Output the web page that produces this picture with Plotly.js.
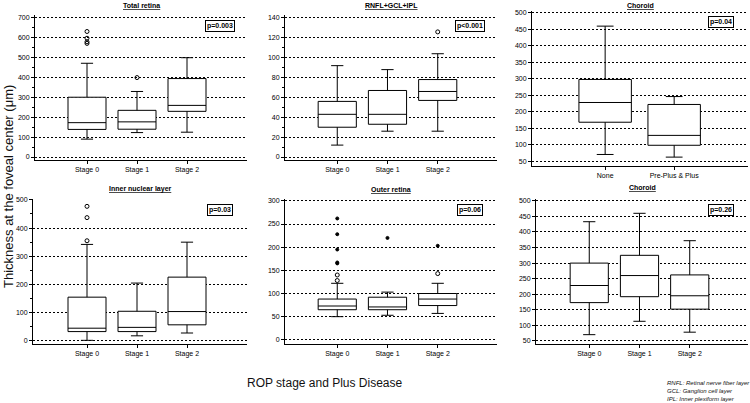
<!DOCTYPE html>
<html>
<head>
<meta charset="utf-8">
<script src="https://cdn.plot.ly/plotly-3.0.1.min.js"></script>
<style>
  html, body { margin: 0; padding: 0; background: #fff; }
  #chart { width: 750px; height: 403px; }
</style>
</head>
<body>
<div id="chart"></div>
<script>
// categories
const STAGES = ["Stage 0", "Stage 1", "Stage 2"];
const PLUS = ["None", "Pre-Plus & Plus"];

// Total retina
const TR_LOW = [90, 123, 125];
const TR_Q1 = [139, 140, 230];
const TR_MED = [173, 177, 260];
const TR_Q3 = [301, 235, 395];
const TR_HIGH = [472, 330, 500];
const TR_OUT_X = ["Stage 0", "Stage 0", "Stage 0", "Stage 0", "Stage 1"];
const TR_OUT_Y = [632, 598, 580, 572, 400];

// RNFL+GCL+IPL
const RG_LOW = [12, 26, 26];
const RG_Q1 = [30, 33, 57];
const RG_MED = [43, 43, 66];
const RG_Q3 = [56, 67, 78];
const RG_HIGH = [92, 88, 104];
const RG_OUT_X = ["Stage 2"];
const RG_OUT_Y = [126];

// Choroid by plus disease
const CP_LOW = [70, 62];
const CP_Q1 = [168, 98];
const CP_MED = [228, 128];
const CP_Q3 = [298, 222];
const CP_HIGH = [460, 246];

// Inner nuclear layer
const IN_LOW = [2, 18, 28];
const IN_Q1 = [33, 33, 57];
const IN_MED = [45, 48, 104];
const IN_Q3 = [155, 105, 226];
const IN_HIGH = [342, 205, 350];
const IN_OUT_X = ["Stage 0", "Stage 0", "Stage 0"];
const IN_OUT_Y = [355, 437, 477];

// Outer retina
const OR_LOW = [50, 53, 57];
const OR_Q1 = [65, 65, 74];
const OR_MED = [73, 71, 88];
const OR_Q3 = [88, 92, 100];
const OR_HIGH = [122, 103, 122];
const OR_OPEN_X = ["Stage 0", "Stage 0", "Stage 2"];
const OR_OPEN_Y = [128, 140, 143];
const OR_FAR_X = ["Stage 0", "Stage 0", "Stage 0", "Stage 0", "Stage 0", "Stage 1", "Stage 2"];
const OR_FAR_Y = [165, 167, 195, 228, 262, 220, 203];

// Choroid by stage
const CS_LOW = [70, 113, 78];
const CS_Q1 = [173, 192, 152];
const CS_MED = [228, 260, 195];
const CS_Q3 = [300, 325, 262];
const CS_HIGH = [433, 460, 372];

const P_TEXT = ["p=0.003", "p<0.001", "p=0.04", "p=0.03", "p=0.06", "p=0.26"];
const TITLES = ["Total retina", "RNFL+GCL+IPL", "Choroid", "Inner nuclear layer", "Outer retina", "Choroid"];

const FONT = "Liberation Sans, Arial, sans-serif";

function box(n, cats, low, q1, med, q3, high) {
  return {
    type: "box",
    xaxis: "x" + (n === 1 ? "" : n),
    yaxis: "y" + (n === 1 ? "" : n),
    x: cats,
    lowerfence: low, q1: q1, median: med, q3: q3, upperfence: high,
    boxpoints: false,
    width: 0.76,
    whiskerwidth: 0.32,
    fillcolor: "white",
    line: { color: "black", width: 1 },
    hoverinfo: "skip",
    showlegend: false
  };
}

function pts(n, xs, ys, symbol, size) {
  return {
    type: "scatter",
    mode: "markers",
    xaxis: "x" + (n === 1 ? "" : n),
    yaxis: "y" + (n === 1 ? "" : n),
    x: xs, y: ys,
    marker: { symbol: symbol, size: size, color: "black", line: { color: "black", width: 1 } },
    showlegend: false
  };
}

const data = [
  box(1, STAGES, TR_LOW, TR_Q1, TR_MED, TR_Q3, TR_HIGH),
  pts(1, TR_OUT_X, TR_OUT_Y, "circle-open", 4),
  box(2, STAGES, RG_LOW, RG_Q1, RG_MED, RG_Q3, RG_HIGH),
  pts(2, RG_OUT_X, RG_OUT_Y, "circle-open", 4),
  box(3, PLUS, CP_LOW, CP_Q1, CP_MED, CP_Q3, CP_HIGH),
  box(4, STAGES, IN_LOW, IN_Q1, IN_MED, IN_Q3, IN_HIGH),
  pts(4, IN_OUT_X, IN_OUT_Y, "circle-open", 4),
  box(5, STAGES, OR_LOW, OR_Q1, OR_MED, OR_Q3, OR_HIGH),
  pts(5, OR_OPEN_X, OR_OPEN_Y, "circle-open", 4),
  pts(5, OR_FAR_X, OR_FAR_Y, "circle", 3),
  box(6, STAGES, CS_LOW, CS_Q1, CS_MED, CS_Q3, CS_HIGH)
];

const W = 750, H = 403;
// panel frames in pixels: [left, right, top, bottom]
const FRAMES = [
  [35, 247, 15, 160],
  [285, 497, 15, 160],
  [532, 748, 11, 166],
  [33, 247, 199, 344],
  [285, 497, 199, 344],
  [536, 748, 199, 344]
];
const TITLE_Y = [5, 5, 5, 189, 189, 188];
const YRANGES = [[-15, 715], [-3, 143], [35, 506], [-11, 503], [-9, 304], [40, 506]];
const DTICK = [100, 20, 50, 100, 50, 50];
const MINOR = [50, 10, null, 50, null, null];
const XRANGES = [[-1.04, 3.2], [-1.04, 3.18], [-1.06, 2.07], [-1.08, 3.2], [-1.04, 3.18], [-1.06, 3.16]];

const layout = {
  width: W, height: H,
  margin: { l: 0, r: 0, t: 0, b: 0 },
  paper_bgcolor: "white",
  plot_bgcolor: "white",
  font: { family: FONT, size: 7, color: "black" },
  annotations: [],
  showlegend: false
};

FRAMES.forEach(function (f, i) {
  const n = i + 1;
  const sx = n === 1 ? "" : n;
  layout["xaxis" + sx] = {
    domain: [f[0] / W, f[1] / W],
    anchor: "y" + sx,
    range: XRANGES[i],
    showline: true, linecolor: "black", linewidth: 1,
    ticks: "outside", ticklen: 3, tickcolor: "black",
    showgrid: false, zeroline: false,
    tickfont: { family: FONT, size: 7, color: "black" },
    fixedrange: true
  };
  const yax = {
    domain: [1 - f[3] / H, 1 - f[2] / H],
    anchor: "x" + sx,
    range: YRANGES[i],
    tick0: 0, dtick: DTICK[i],
    showline: true, linecolor: "black", linewidth: 1,
    ticks: "outside", ticklen: 3, tickcolor: "black",
    showgrid: true, gridcolor: "black", gridwidth: 1, griddash: "2px,2px",
    zeroline: false,
    tickfont: { family: FONT, size: 7, color: "black" },
    fixedrange: true
  };
  if (MINOR[i]) yax.minor = { dtick: MINOR[i], ticks: "outside", ticklen: 2, tickcolor: "black", showgrid: false };
  layout["yaxis" + sx] = yax;

  // panel title
  layout.annotations.push({
    xref: "paper", yref: "paper",
    x: (f[0] + f[1]) / 2 / W, y: 1 - TITLE_Y[i] / H,
    text: "<u><b>" + TITLES[i] + "</b></u>",
    showarrow: false, xanchor: "center", yanchor: "middle",
    font: { family: FONT, size: 7, color: "black" }
  });
  // p value box
  layout.annotations.push({
    xref: "paper", yref: "paper",
    x: (f[1] - 27) / W, y: 1 - (f[2] + 11) / H,
    text: "<b>" + P_TEXT[i] + "</b>",
    showarrow: false, xanchor: "center", yanchor: "middle",
    bordercolor: "black", borderwidth: 1, borderpad: 1, bgcolor: "white",
    font: { family: FONT, size: 7, color: "black" }
  });
});

layout.annotations.push(
  {
    xref: "paper", yref: "paper", x: 8 / W, y: 1 - 187 / H,
    text: "Thickness at the foveal center (\u03bcm)", textangle: -90,
    showarrow: false, xanchor: "center", yanchor: "middle",
    font: { family: FONT, size: 13, color: "#111" }
  },
  {
    xref: "paper", yref: "paper", x: 325 / W, y: 1 - 383 / H,
    text: "ROP stage and Plus Disease",
    showarrow: false, xanchor: "center", yanchor: "middle",
    font: { family: FONT, size: 12, color: "#111" }
  },
  {
    xref: "paper", yref: "paper", x: 665 / W, y: 1 - 391 / H,
    text: "<i>RNFL: Retinal nerve fiber layer<br>GCL: Ganglion cell layer<br>IPL: Inner plexiform layer</i>",
    align: "left", showarrow: false, xanchor: "left", yanchor: "middle",
    font: { family: FONT, size: 6, color: "#111" }
  }
);

Plotly.newPlot("chart", data, layout, { staticPlot: true });
</script>
</body>
</html>
